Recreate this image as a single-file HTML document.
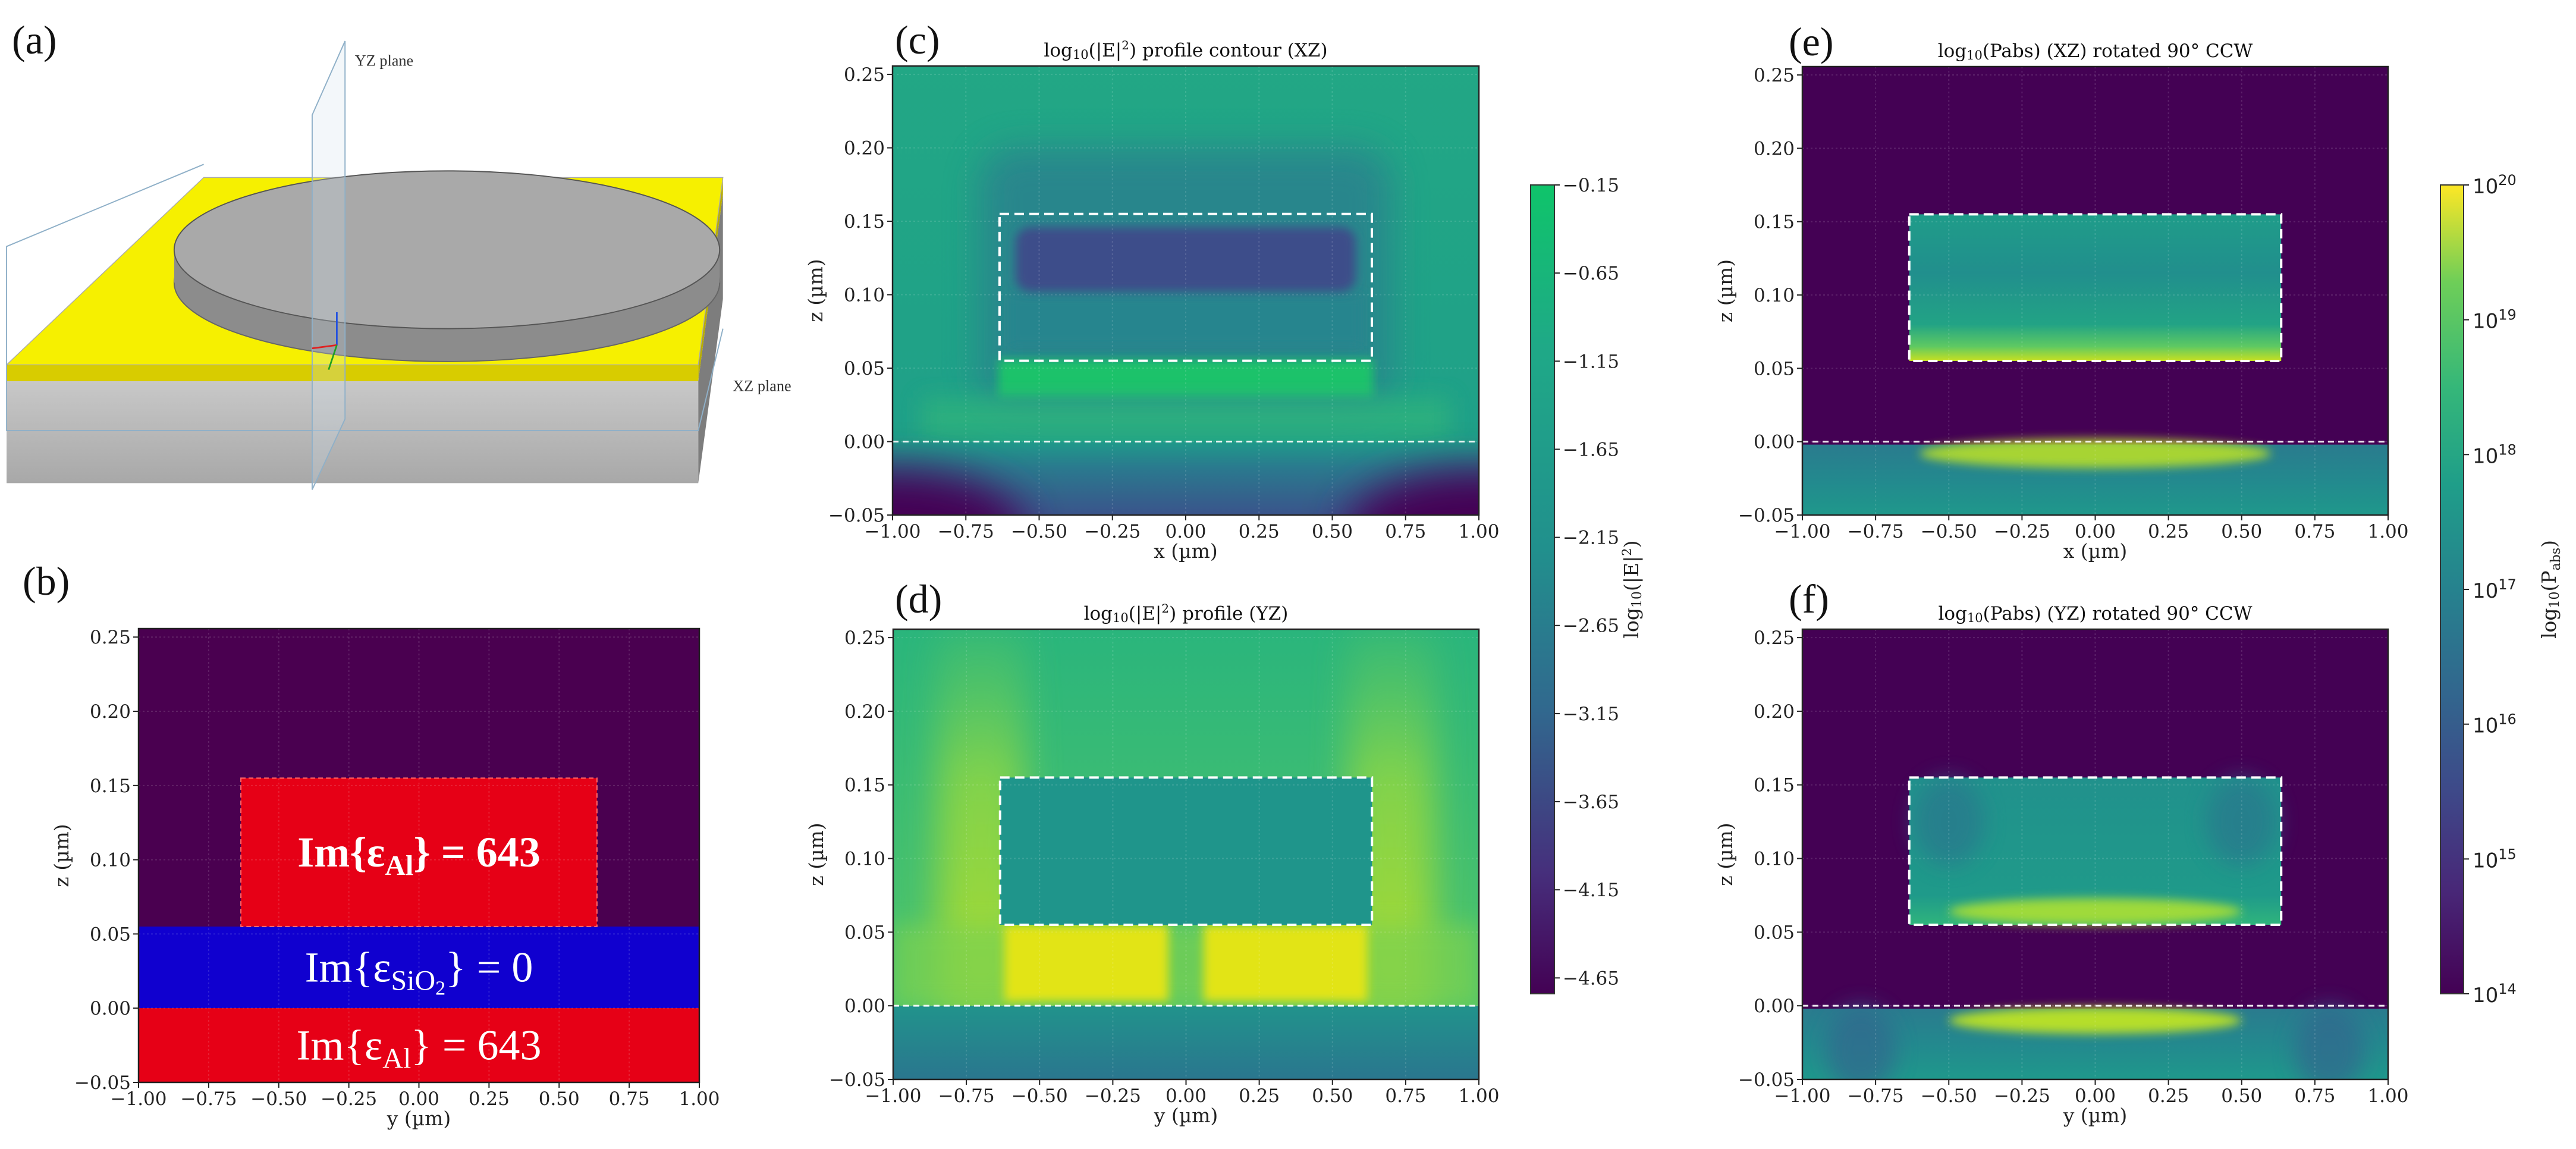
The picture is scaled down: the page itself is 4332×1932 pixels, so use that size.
<!DOCTYPE html>
<html><head><meta charset="utf-8">
<style>
html,body{margin:0;padding:0;background:#fff;}
svg{display:block;}
.tk{font-family:"DejaVu Serif","Liberation Serif",serif;font-size:31px;fill:#222;}
.ttl{font-family:"DejaVu Serif","Liberation Serif",serif;font-size:31px;fill:#111;}
.lab{font-family:"DejaVu Serif","Liberation Serif",serif;font-size:33px;fill:#222;}
.pl{font-family:"Liberation Serif",serif;font-size:68px;fill:#111;}
.cb2{font-family:"DejaVu Sans","Liberation Sans",sans-serif;font-size:34px;fill:#222;}
</style></head>
<body>
<svg id="fig" xmlns="http://www.w3.org/2000/svg" width="4332" height="1932" viewBox="0 0 4332 1932">
<defs>
<filter id="blur1" x="-50%" y="-50%" width="200%" height="200%"><feGaussianBlur stdDeviation="18"/></filter>
<filter id="blur2" x="-50%" y="-50%" width="200%" height="200%"><feGaussianBlur stdDeviation="8"/></filter>
<filter id="blur3" x="-50%" y="-50%" width="200%" height="200%"><feGaussianBlur stdDeviation="35"/></filter>
<filter id="blur4" x="-50%" y="-50%" width="200%" height="200%"><feGaussianBlur stdDeviation="30"/></filter>
<linearGradient id="vir1" x1="0" y1="1" x2="0" y2="0">
<stop offset="0" stop-color="#440154"/><stop offset="0.15" stop-color="#462f7c"/><stop offset="0.35" stop-color="#31688e"/><stop offset="0.55" stop-color="#21908d"/><stop offset="0.8" stop-color="#1fa987"/><stop offset="1" stop-color="#0fc46a"/>
</linearGradient>
<linearGradient id="vir2" x1="0" y1="1" x2="0" y2="0">
<stop offset="0" stop-color="#440154"/><stop offset="0.13" stop-color="#482878"/><stop offset="0.25" stop-color="#3e4989"/><stop offset="0.38" stop-color="#31688e"/><stop offset="0.5" stop-color="#26828e"/><stop offset="0.63" stop-color="#1f9e89"/><stop offset="0.75" stop-color="#35b779"/><stop offset="0.88" stop-color="#6ece58"/><stop offset="1" stop-color="#fde725"/>
</linearGradient>
<linearGradient id="cTop" x1="0" y1="0" x2="0" y2="1"><stop offset="0" stop-color="#22a785"/><stop offset="1" stop-color="#1fa088"/></linearGradient>
<linearGradient id="cSub" x1="0" y1="0" x2="0" y2="1"><stop offset="0" stop-color="#1f9a8a"/><stop offset="0.35" stop-color="#2a7a8e"/><stop offset="1" stop-color="#3a548b"/></linearGradient>
<linearGradient id="dBg" x1="0" y1="0" x2="0" y2="1"><stop offset="0" stop-color="#2ab57c"/><stop offset="1" stop-color="#52c569"/></linearGradient>
<linearGradient id="dSub" x1="0" y1="0" x2="0" y2="1"><stop offset="0" stop-color="#21938c"/><stop offset="1" stop-color="#2a768e"/></linearGradient>
<linearGradient id="eRect" x1="0" y1="0" x2="0" y2="1"><stop offset="0" stop-color="#1f9c89"/><stop offset="0.4" stop-color="#218f8d"/><stop offset="0.75" stop-color="#22a385"/><stop offset="0.9" stop-color="#5ec962"/><stop offset="1" stop-color="#c8e020"/></linearGradient>
<linearGradient id="fRect" x1="0" y1="0" x2="0" y2="1"><stop offset="0" stop-color="#21918c"/><stop offset="0.8" stop-color="#1f9a8a"/><stop offset="1" stop-color="#2fb47c"/></linearGradient>
<linearGradient id="eSub" x1="0" y1="0" x2="0" y2="1"><stop offset="0" stop-color="#2a7b8e"/><stop offset="0.5" stop-color="#23898e"/><stop offset="1" stop-color="#1f988b"/></linearGradient>
<linearGradient id="subA" x1="0" y1="0" x2="0" y2="1"><stop offset="0" stop-color="#c8c8c8"/><stop offset="1" stop-color="#a8a8a8"/></linearGradient>
<linearGradient id="colG" x1="0" y1="1" x2="0" y2="0"><stop offset="0" stop-color="#b8de29"/><stop offset="0.6" stop-color="#8fd744"/><stop offset="1" stop-color="#5ec962" stop-opacity="0.3"/></linearGradient>
</defs>
</svg>
<script>
// ---- data ----
const xTicks = [-1.00,-0.75,-0.50,-0.25,0.00,0.25,0.50,0.75,1.00];
const zTicks = [-0.05,0.00,0.05,0.10,0.15,0.20,0.25];
const zLim = [-0.05,0.2557];
const xLim = [-1,1];
const diskX = [-0.635,0.635];
const diskZ = [0.055,0.155];
const oxideZ = [0.0,0.055];
const cbar1Ticks = [-0.15,-0.65,-1.15,-1.65,-2.15,-2.65,-3.15,-3.65,-4.15,-4.65];
const cbar1Lim = [-4.74,-0.15];
const cbar2Ticks = [14,15,16,17,18,19,20];
const cbar2Lim = [14,20];

const NS='http://www.w3.org/2000/svg';
const svg=document.getElementById('fig');
function mk(tag,attrs,parent){const e=document.createElementNS(NS,tag);for(const k in attrs)e.setAttribute(k,attrs[k]);(parent||svg).appendChild(e);return e;}
function nm(el,name){


return el;}
function txt(s,attrs,parent){const e=mk('text',attrs,parent);e.textContent=s;return e;}
function fmt(v){return (v<0?'\u2212':'')+Math.abs(v).toFixed(2);}

const P={b:{L:233,R:1176,T:1057,B:1820},c:{L:1501,R:2487,T:111,B:866},d:{L:1502,R:2487,T:1058,B:1815},e:{L:3031,R:4016,T:112,B:866},f:{L:3031,R:4016,T:1058,B:1815}};
function axes(p){return{X:x=>p.L+(x-xLim[0])/(xLim[1]-xLim[0])*(p.R-p.L),Z:z=>p.B-(z-zLim[0])/(zLim[1]-zLim[0])*(p.B-p.T)};}
function rectD(g,a,x0,x1,z0,z1,attrs){return mk('rect',Object.assign({x:a.X(x0),y:a.Z(z1),width:a.X(x1)-a.X(x0),height:a.Z(z0)-a.Z(z1)},attrs),g);}
function ellD(g,a,cx,cz,rx,rz,attrs){return mk('ellipse',Object.assign({cx:a.X(cx),cy:a.Z(cz),rx:a.X(cx+rx)-a.X(cx),ry:a.Z(cz-rz)-a.Z(cz)},attrs),g);}

function frame(key){
 const p=P[key],a=axes(p);
 const g=nm(mk('g',{}),'panel-'+key);
 const cp=mk('clipPath',{id:'clip'+key},svg);mk('rect',{x:p.L,y:p.T,width:p.R-p.L,height:p.B-p.T},cp);
 const plot=nm(mk('g',{'clip-path':'url(#clip'+key+')'},g),'heatmap-'+key);
 return {p,a,g,plot};
}
function finish(F,key,xlabel,title){
 const {p,a,g,plot}=F;
 const grid=nm(mk('g',{stroke:'#fff','stroke-opacity':'0.13','stroke-width':2,'stroke-dasharray':'3 4'},plot),'grid-'+key);
 xTicks.forEach(v=>mk('line',{x1:a.X(v),x2:a.X(v),y1:p.T,y2:p.B},grid));
 zTicks.forEach(v=>mk('line',{x1:p.L,x2:p.R,y1:a.Z(v),y2:a.Z(v)},grid));
 nm(mk('rect',{x:p.L,y:p.T,width:p.R-p.L,height:p.B-p.T,fill:'none',stroke:'#222','stroke-width':2.5},g),'plot-frame-'+key);
 const xt=nm(mk('g',{},g),'x-ticks-'+key);
 xTicks.forEach(v=>{mk('line',{x1:a.X(v),x2:a.X(v),y1:p.B,y2:p.B+9,stroke:'#222','stroke-width':2},xt);
  txt(fmt(v),{x:a.X(v),y:p.B+38,'text-anchor':'middle',class:'tk'},xt);});
 const zt=nm(mk('g',{},g),'z-ticks-'+key);
 zTicks.forEach(v=>{mk('line',{x1:p.L-9,x2:p.L,y1:a.Z(v),y2:a.Z(v),stroke:'#222','stroke-width':2},zt);
  txt(fmt(v),{x:p.L-13,y:a.Z(v)+11,'text-anchor':'end',class:'tk'},zt);});
 nm(txt(xlabel,{x:(p.L+p.R)/2,y:p.B+72,'text-anchor':'middle',class:'lab'},g),'x-axis-title-'+key);
 const zx=p.L-118,zy=(p.T+p.B)/2;
 nm(txt('z (\u00b5m)',{x:zx,y:zy,transform:`rotate(-90 ${zx} ${zy})`,'text-anchor':'middle',class:'lab'},g),'z-axis-title-'+key);
 if(title){const t=nm(mk('text',{x:(p.L+p.R)/2,y:p.T-16,'text-anchor':'middle',class:'ttl'},g),'title-'+key);t.innerHTML=title;}
}
function dashRect(F,key){const {a,plot}=F;
 nm(rectD(plot,a,diskX[0],diskX[1],diskZ[0],diskZ[1],{fill:'none',stroke:'#fff','stroke-width':4,'stroke-dasharray':'16 9'}),'disk-outline-'+key);
 nm(mk('line',{x1:F.p.L,x2:F.p.R,y1:a.Z(0),y2:a.Z(0),stroke:'#fff','stroke-width':3,'stroke-dasharray':'10 7','stroke-opacity':0.9},plot),'interface-line-'+key);}

// ---- panel b ----
{const F=frame('b');const {a,plot}=F;
 nm(rectD(plot,a,-1,1,zLim[0],zLim[1],{fill:'#4a0050'}),'air-region');
 nm(rectD(plot,a,-1,1,oxideZ[0],oxideZ[1],{fill:'#1000cf'}),'sio2-layer');
 nm(rectD(plot,a,-1,1,zLim[0],0,{fill:'#e60016'}),'al-substrate');
 nm(rectD(plot,a,diskX[0],diskX[1],diskZ[0],diskZ[1],{fill:'#e60016',stroke:'#ff6a6a','stroke-width':2,'stroke-dasharray':'8 5'}),'al-disk');
 const t1=nm(mk('text',{x:a.X(0),y:a.Z(0.105)+24,'text-anchor':'middle','font-family':'Liberation Serif, serif','font-size':72,'font-weight':'bold',fill:'#fff'},F.g),'label-disk');
 t1.innerHTML='Im{ε<tspan font-size="48" dy="14">Al</tspan><tspan dy="-14">} = 643</tspan>';
 const t2=nm(mk('text',{x:a.X(0),y:a.Z(0.0275)+24,'text-anchor':'middle','font-family':'Liberation Serif, serif','font-size':72,fill:'#fff'},F.g),'label-oxide');
 t2.innerHTML='Im{ε<tspan font-size="48" dy="14">SiO</tspan><tspan font-size="34" dy="8">2</tspan><tspan dy="-22">} = 0</tspan>';
 const t3=nm(mk('text',{x:a.X(0),y:a.Z(-0.025)+24,'text-anchor':'middle','font-family':'Liberation Serif, serif','font-size':72,fill:'#fff'},F.g),'label-substrate');
 t3.innerHTML='Im{ε<tspan font-size="48" dy="14">Al</tspan><tspan dy="-14">} = 643</tspan>';
 finish(F,'b','y (\u00b5m)',null);}

// ---- panel c ----
{const F=frame('c');const {a,plot}=F;
 rectD(plot,a,-1,1,0,zLim[1],{fill:'url(#cTop)'});
 nm(rectD(plot,a,-0.7,0.7,0.02,0.2,{fill:'#2a7f8e',opacity:0.8,rx:60,filter:'url(#blur4)'}),'field-shadow');
 nm(rectD(plot,a,-0.6,0.6,0.065,0.10,{fill:'#27858e',filter:'url(#blur2)'}),'field-band-mid');
 nm(rectD(plot,a,-0.58,0.58,0.102,0.146,{fill:'#3d4e8a',rx:25,filter:'url(#blur2)'}),'field-min-band');
 nm(rectD(plot,a,-0.64,0.64,0.03,0.056,{fill:'#1ec26b',filter:'url(#blur2)'}),'field-hot-band');
 nm(rectD(plot,a,-0.9,0.9,0.002,0.03,{fill:'#2db27d',opacity:0.8,filter:'url(#blur1)'}),'field-gap-band');
 rectD(plot,a,-1,1,zLim[0],0,{fill:'url(#cSub)'});
 nm(ellD(plot,a,-1,-0.06,0.45,0.04,{fill:'#440154',filter:'url(#blur3)'}),'corner-left');
 nm(ellD(plot,a,1,-0.06,0.45,0.04,{fill:'#440154',filter:'url(#blur3)'}),'corner-right');
 dashRect(F,'c');
 finish(F,'c','x (\u00b5m)','log<tspan font-size="21" dy="4">10</tspan><tspan dy="-4">(|E|</tspan><tspan font-size="20" dy="-12">2</tspan><tspan dy="12">) profile contour (XZ)</tspan>');}

// ---- panel d ----
{const F=frame('d');const {a,plot}=F;
 rectD(plot,a,-1,1,0,zLim[1],{fill:'url(#dBg)'});
 nm(rectD(plot,a,-0.85,-0.55,0,zLim[1],{fill:'url(#colG)',opacity:0.85,filter:'url(#blur4)'}),'column-left');
 nm(rectD(plot,a,0.55,0.85,0,zLim[1],{fill:'url(#colG)',opacity:0.85,filter:'url(#blur4)'}),'column-right');
 nm(rectD(plot,a,-1,1,0,0.055,{fill:'#7ad151',opacity:0.7,filter:'url(#blur1)'}),'gap-glow');
 nm(rectD(plot,a,-0.62,-0.06,0.003,0.055,{fill:'#e2e418',filter:'url(#blur2)'}),'lobe-left');
 nm(rectD(plot,a,0.06,0.62,0.003,0.055,{fill:'#e2e418',filter:'url(#blur2)'}),'lobe-right');
 nm(rectD(plot,a,diskX[0],diskX[1],diskZ[0],diskZ[1],{fill:'#1f958b'}),'disk-interior');
 rectD(plot,a,-1,1,zLim[0],0,{fill:'url(#dSub)'});
 dashRect(F,'d');
 finish(F,'d','y (\u00b5m)','log<tspan font-size="21" dy="4">10</tspan><tspan dy="-4">(|E|</tspan><tspan font-size="20" dy="-12">2</tspan><tspan dy="12">) profile (YZ)</tspan>');}

// ---- panel e ----
{const F=frame('e');const {a,plot}=F;
 rectD(plot,a,-1,1,zLim[0],zLim[1],{fill:'#440154'});
 nm(rectD(plot,a,diskX[0],diskX[1],diskZ[0],diskZ[1],{fill:'url(#eRect)'}),'disk-absorption');
 rectD(plot,a,-1,1,zLim[0],-0.002,{fill:'url(#eSub)'});
 nm(ellD(plot,a,0,-0.008,0.6,0.01,{fill:'#b5de2b',opacity:0.9,filter:'url(#blur2)'}),'substrate-hotspot');
 dashRect(F,'e');
 finish(F,'e','x (\u00b5m)','log<tspan font-size="21" dy="4">10</tspan><tspan dy="-4">(Pabs) (XZ) rotated 90° CCW</tspan>');}

// ---- panel f ----
{const F=frame('f');const {a,plot}=F;
 rectD(plot,a,-1,1,zLim[0],zLim[1],{fill:'#440154'});
 nm(rectD(plot,a,diskX[0],diskX[1],diskZ[0],diskZ[1],{fill:'url(#fRect)'}),'disk-absorption');
 nm(ellD(plot,a,-0.5,0.125,0.12,0.03,{fill:'#2c728e',opacity:0.6,filter:'url(#blur1)'}),'dark-left');
 nm(ellD(plot,a,0.5,0.125,0.12,0.03,{fill:'#2c728e',opacity:0.6,filter:'url(#blur1)'}),'dark-right');
 nm(ellD(plot,a,0,0.064,0.5,0.009,{fill:'#9fda3a',filter:'url(#blur2)'}),'disk-hotspot');
 rectD(plot,a,-1,1,zLim[0],-0.002,{fill:'url(#eSub)'});
 nm(ellD(plot,a,-0.8,-0.03,0.12,0.03,{fill:'#31688e',opacity:0.7,filter:'url(#blur1)'}),'sub-dark-left');
 nm(ellD(plot,a,0.8,-0.03,0.12,0.03,{fill:'#31688e',opacity:0.7,filter:'url(#blur1)'}),'sub-dark-right');
 nm(ellD(plot,a,0,-0.01,0.5,0.009,{fill:'#b5de2b',filter:'url(#blur2)'}),'substrate-hotspot');
 dashRect(F,'f');
 finish(F,'f','y (\u00b5m)','log<tspan font-size="21" dy="4">10</tspan><tspan dy="-4">(Pabs) (YZ) rotated 90° CCW</tspan>');}

// ---- colorbars ----
{const L=2574,R=2614,T=311,B=1671;
 const g=nm(mk('g',{}),'colorbar-e-field');
 mk('rect',{x:L,y:T,width:R-L,height:B-T,fill:'url(#vir1)',stroke:'#333','stroke-width':2},g);
 const Y=v=>B-(v-cbar1Lim[0])/(cbar1Lim[1]-cbar1Lim[0])*(B-T);
 cbar1Ticks.forEach(v=>{mk('line',{x1:R,x2:R+9,y1:Y(v),y2:Y(v),stroke:'#222','stroke-width':2},g);
  txt(fmt(v),{x:R+14,y:Y(v)+11,class:'tk'},g);});
 const lx=2755,ly=(T+B)/2;
 const t=nm(mk('text',{x:lx,y:ly,transform:`rotate(-90 ${lx} ${ly})`,'text-anchor':'middle',class:'lab'},g),'colorbar-e-title');
 t.innerHTML='log<tspan font-size="22" dy="5">10</tspan><tspan dy="-5">(|E|</tspan><tspan font-size="21" dy="-12">2</tspan><tspan dy="12">)</tspan>';}
{const L=4104,R=4143,T=311,B=1671;
 const g=nm(mk('g',{}),'colorbar-pabs');
 mk('rect',{x:L,y:T,width:R-L,height:B-T,fill:'url(#vir2)',stroke:'#333','stroke-width':2},g);
 const Y=v=>B-(v-cbar2Lim[0])/(cbar2Lim[1]-cbar2Lim[0])*(B-T);
 cbar2Ticks.forEach(v=>{mk('line',{x1:R,x2:R+9,y1:Y(v),y2:Y(v),stroke:'#222','stroke-width':2},g);
  const t=mk('text',{x:R+15,y:Y(v)+14,class:'cb2'},g);t.innerHTML='10<tspan font-size="24" dy="-14">'+v+'</tspan>';});
 const lx=4298,ly=(T+B)/2;
 const t=nm(mk('text',{x:lx,y:ly,transform:`rotate(-90 ${lx} ${ly})`,'text-anchor':'middle',class:'lab'},g),'colorbar-pabs-title');
 t.innerHTML='log<tspan font-size="22" dy="5">10</tspan><tspan dy="-5">(P</tspan><tspan font-size="22" dy="7">abs</tspan><tspan dy="-7">)</tspan>';}

// ---- panel labels ----
[['(a)',20,90],['(b)',38,1000],['(c)',1505,90],['(d)',1505,1030],['(e)',3008,93],['(f)',3008,1030]].forEach(l=>{
 const t=txt(l[0],{x:l[1],y:l[2],class:'pl'});
 
 
});

// ---- panel a (3D schematic), drawn in reduced units then scaled ----
{const g=nm(mk('g',{transform:'scale(2.763)'}),'panel-a-schematic');
 nm(mk('polygon',{points:'4,232 425,232 425,294 4,294',fill:'url(#subA)'},g),'substrate-front');
 nm(mk('polygon',{points:'425,232 440,118 440,182 425,294',fill:'#7d7d7d'},g),'substrate-side');
 nm(mk('polygon',{points:'4,222 425,222 425,232 4,232',fill:'#d8cc00'},g),'film-front');
 nm(mk('polygon',{points:'425,222 440,108 440,118 425,232',fill:'#b8ad00'},g),'film-side');
 nm(mk('polygon',{points:'4,222 124,108 440,108 425,222',fill:'#f6f000',stroke:'#aaa','stroke-width':0.5},g),'film-top');
 nm(mk('polyline',{points:'124,100 4,150 4,262 425,262 440,200',fill:'none',stroke:'#8fb0c8','stroke-width':0.7},g),'xz-plane-outline');
 nm(mk('ellipse',{cx:272,cy:172,rx:166,ry:48,fill:'#8c8c8c',stroke:'#666','stroke-width':0.7},g),'disk-side');
 nm(mk('rect',{x:106,y:152,width:332,height:20,fill:'#8c8c8c'},g),'disk-wall');
 nm(mk('ellipse',{cx:272,cy:152,rx:166,ry:48,fill:'#a9a9a9',stroke:'#555','stroke-width':0.7},g),'disk-top');
 nm(mk('polygon',{points:'190,70 210,25 210,255 190,298',fill:'#cfe0ec','fill-opacity':0.25,stroke:'#8fb0c8','stroke-width':0.7},g),'yz-plane');
 nm(mk('line',{x1:205,y1:210,x2:205,y2:190,stroke:'#2050e0','stroke-width':1},g),'z-arrow');
 nm(mk('line',{x1:205,y1:210,x2:190,y2:212,stroke:'#e02020','stroke-width':1},g),'x-arrow');
 nm(mk('line',{x1:205,y1:210,x2:200,y2:225,stroke:'#20a020','stroke-width':1},g),'y-arrow');
 nm(txt('YZ plane',{x:216,y:40,'font-family':'Liberation Serif, serif','font-size':9.5,fill:'#333'},g),'yz-plane-label');
 nm(txt('XZ plane',{x:446,y:238,'font-family':'Liberation Serif, serif','font-size':9.5,fill:'#333'},g),'xz-plane-label');}
</script>
</body></html>
